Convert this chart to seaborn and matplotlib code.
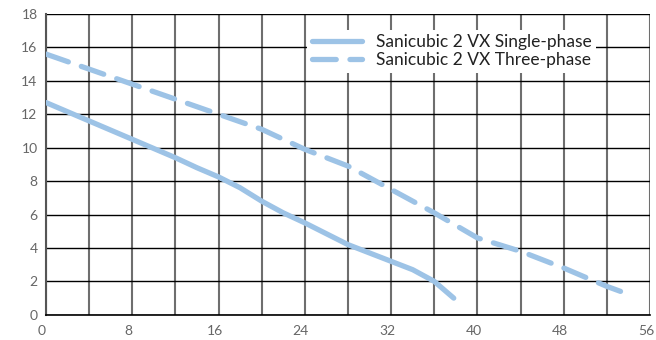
import numpy as np
import pandas as pd
import seaborn as sns
from matplotlib import pyplot as plt
from matplotlib.ticker import MultipleLocator
from matplotlib.transforms import ScaledTranslation

# flow (x) vs head (y)
single_x = [0, 4, 8, 12, 14, 16, 18, 20, 22, 24, 26, 28, 30, 32, 34, 36, 37.8]
single_y = [12.7, 11.6, 10.5, 9.4, 8.8, 8.25, 7.6, 6.8, 6.1, 5.5, 4.85, 4.2, 3.7, 3.2, 2.7, 2.0, 1.0]
three_x = [0, 4, 8, 12, 16, 20, 24, 28, 32, 36, 40, 44, 48, 52, 53.7]
three_y = [15.6, 14.7, 13.8, 12.9, 12.0, 11.1, 9.9, 8.9, 7.5, 6.1, 4.6, 3.8, 2.8, 1.7, 1.3]
labels = ["Sanicubic 2 VX Single-phase", "Sanicubic 2 VX Three-phase"]

df = pd.concat([
    pd.DataFrame({"flow": single_x, "head": single_y, "pump": labels[0]}),
    pd.DataFrame({"flow": three_x, "head": three_y, "pump": labels[1]}),
])

sns.set_style("white")
plt.rcParams['font.family'] = ['Lato', 'DejaVu Sans']

fig = plt.figure(figsize=(6.56, 3.40), dpi=100)
ax = fig.add_axes([0.070, 0.074, 0.921, 0.885])

blue = "#9dc3e6"
g = sns.lineplot(
    data=df, x="flow", y="head", hue="pump", style="pump",
    palette={labels[0]: blue, labels[1]: blue},
    dashes={labels[0]: "", labels[1]: (4.5, 2.6)},
    linewidth=3.8, ax=ax, sort=False, estimator=None,
)
for ln in ax.get_lines():
    ln.set_solid_capstyle("round")
    ln.set_dash_capstyle("round")
    ln.set_solid_joinstyle("round")
    ln.set_zorder(5)

ax.set_xlim(0, 56)
ax.set_ylim(0, 18)
ax.xaxis.set_major_locator(MultipleLocator(8))
ax.xaxis.set_minor_locator(MultipleLocator(4))
ax.yaxis.set_major_locator(MultipleLocator(2))
ax.grid(True, axis="x", which="both", color="#6e6e6e", linewidth=1.5, zorder=1)
ax.grid(True, axis="y", which="major", color="black", linewidth=1.0, zorder=1)
ax.set_axisbelow(True)

for side in ["top", "right"]:
    ax.spines[side].set_visible(False)
ax.spines["left"].set_color("#555555")
ax.spines["left"].set_linewidth(1.5)
ax.spines["bottom"].set_color("black")
ax.spines["bottom"].set_linewidth(1.2)

ax.tick_params(axis="both", which="both", length=0, labelsize=10, labelcolor="#666666")
ax.tick_params(axis="x", pad=7)
ax.tick_params(axis="y", pad=6)
ax.set_xlabel("")
ax.set_ylabel("")

# x labels sit a little left of their gridlines in the reference
shift = ScaledTranslation(-4 / 100, 0, fig.dpi_scale_trans)
for lbl in ax.get_xticklabels():
    lbl.set_transform(lbl.get_transform() + shift)

leg = ax.legend(
    loc="upper right", bbox_to_anchor=(0.925, 0.975), frameon=True,
    fontsize=12.5, handlelength=2.9, handletextpad=0.8, borderpad=0.25,
    labelspacing=0.1, fancybox=False,
)
leg.get_frame().set_facecolor("white")
leg.get_frame().set_edgecolor("none")
leg.get_frame().set_alpha(1)
leg.set_zorder(10)
for t in leg.get_texts():
    t.set_color("#222222")

plt.savefig("out.png", dpi=100)
plt.close()
